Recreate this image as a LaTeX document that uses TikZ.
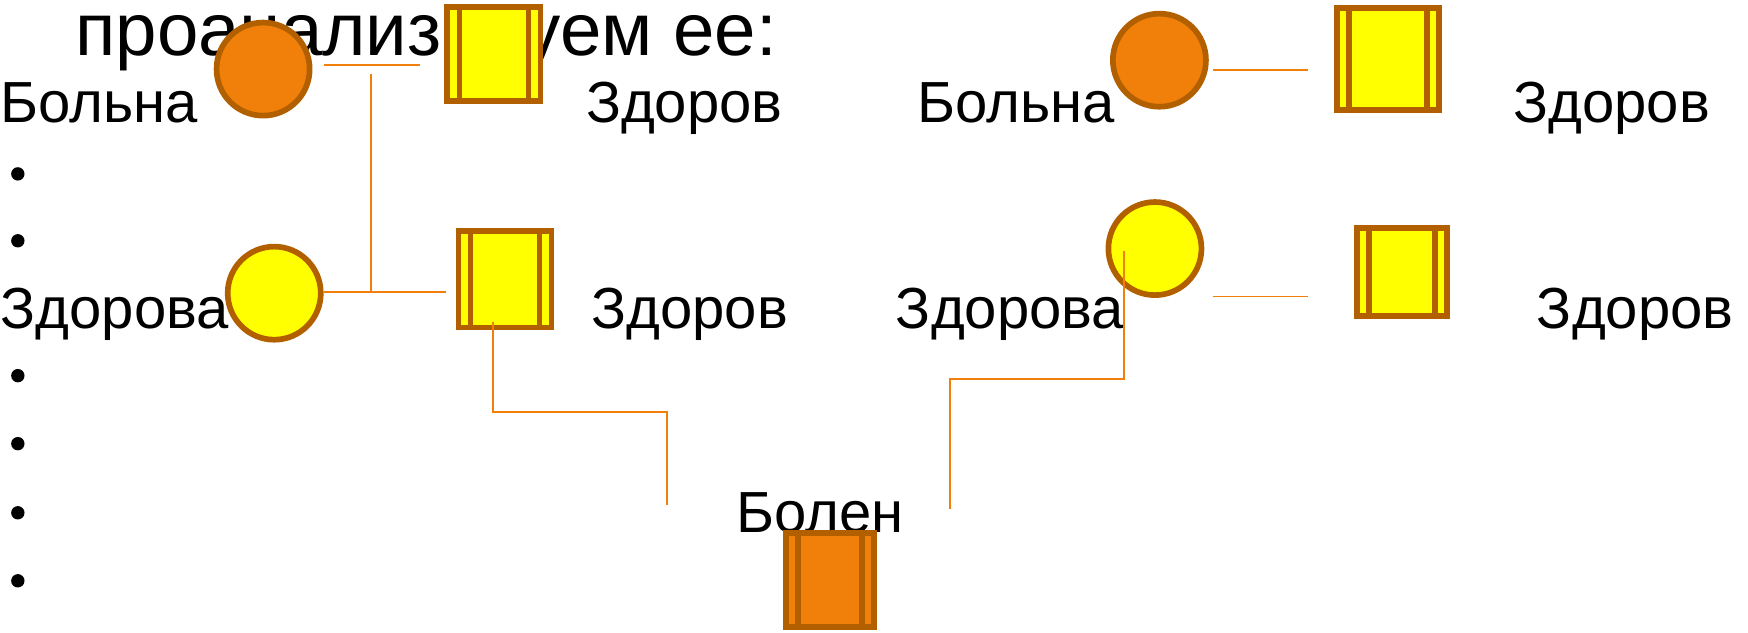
\documentclass[tikz,border=0pt]{standalone}
\usepackage{fontspec}
\setmainfont{Liberation Sans}
\usepackage{tikz}
\usetikzlibrary{calc}
\definecolor{brn}{RGB}{178,95,0}
\definecolor{org}{RGB}{240,128,10}
\definecolor{ylw}{RGB}{255,255,0}
\tikzstyle{fem} = [circle, draw=brn, line width=1.45pt, minimum size=0.835cm, inner sep=0pt]
\tikzstyle{male} = [rectangle, draw=brn, line width=1.45pt, inner sep=0pt,
    path picture={\draw[brn, line width=1.45pt]
        ([xshift=0.108cm]path picture bounding box.south west) -- ([xshift=0.108cm]path picture bounding box.north west)
        ([xshift=-0.108cm]path picture bounding box.south east) -- ([xshift=-0.108cm]path picture bounding box.north east);}]
\tikzstyle{lbl} = [anchor=base west, inner sep=0pt, font=\fontsize{14.8}{17}\selectfont]
\tikzstyle{link} = [draw=org, line width=0.5pt]

\begin{document}
\begin{tikzpicture}
        \tikzstyle{dot} = [circle, fill=black, minimum size=0.12cm, inner sep=0pt]
        \useasboundingbox (0,0) rectangle (15.68,5.67);

        % texts (behind the symbols)
        \node (title) at (0.67, 5.17) [anchor=base west, inner sep=0pt, font=\fontsize{19}{22}\selectfont] {проанализируем ее:};
        \node (t1) at (0, 4.57) [lbl] {Больна};
        \node (t2) at (5.25, 4.57) [lbl] {Здоров};
        \node (t3) at (0, 2.72) [lbl] {Здорова};
        \node (t4) at (5.30, 2.72) [lbl] {Здоров};
        \node (t5) at (8.22, 4.57) [lbl] {Больна};
        \node (t6) at (13.57, 4.57) [lbl] {Здоров};
        \node (t7) at (8.03, 2.72) [lbl] {Здорова};
        \node (t8) at (13.78, 2.72) [lbl] {Здоров};
        \node (t9) at (6.60, 0.89) [lbl] {Болен};

        \foreach \y [count=\i] in {4.11, 3.51, 2.30, 1.69, 1.07, 0.46}{
                \node (b\i) at (0.16, \y) [dot] {};
            }

        % left family
        \node (c1) at (2.36, 5.05) [fem, fill=org] {};
        \node (s1) at (4.43, 5.185) [male, fill=ylw, minimum width=0.835cm, minimum height=0.845cm] {};
        \node (c2) at (2.46, 3.04) [fem, fill=ylw] {};
        \node (s2) at (4.53, 3.165) [male, fill=ylw, minimum width=0.835cm, minimum height=0.865cm] {};

        % right family
        \node (c3) at (10.40, 5.13) [fem, fill=org] {};
        \node (s4) at (12.45, 5.14) [male, fill=ylw, minimum width=0.915cm, minimum height=0.915cm] {};
        \node (c4) at (10.36, 3.44) [fem, fill=ylw] {};
        \node (s5) at (12.575, 3.23) [male, fill=ylw, minimum width=0.805cm, minimum height=0.795cm] {};

        % child
        \node (s3) at (7.445, 0.465) [male, fill=org, minimum width=0.785cm, minimum height=0.845cm] {};

        % connector ends
        \coordinate (m1a) at (2.91, 5.09);
        \coordinate (m1b) at (3.77, 5.09);
        \coordinate (v1a) at (3.33, 5.01);
        \coordinate (v1b) at (3.33, 3.05);
        \coordinate (m2a) at (2.91, 3.05);
        \coordinate (m2b) at (4.00, 3.05);
        \coordinate (d1a) at (4.42, 2.78);
        \coordinate (d1b) at (5.98, 1.14);
        \coordinate (m3a) at (10.88, 5.04);
        \coordinate (m3b) at (11.73, 5.04);
        \coordinate (m4a) at (10.88, 3.01);
        \coordinate (m4b) at (11.73, 3.01);
        \coordinate (d2a) at (10.08, 3.42);
        \coordinate (d2b) at (8.52, 1.10);

        \draw[link] (m1a) -- (m1b);
        \draw[link] (v1a) -- (v1b);
        \draw[link] (m2a) -- (m2b);
        \draw[link] (d1a) -- (4.42, 1.97) -| (d1b);
        \draw[link] (m3a) -- (m3b);
        \draw[link] (m4a) -- (m4b);
        \draw[link] (d2a) -- (10.08, 2.27) -| (d2b);
    \end{tikzpicture}
\end{document}
